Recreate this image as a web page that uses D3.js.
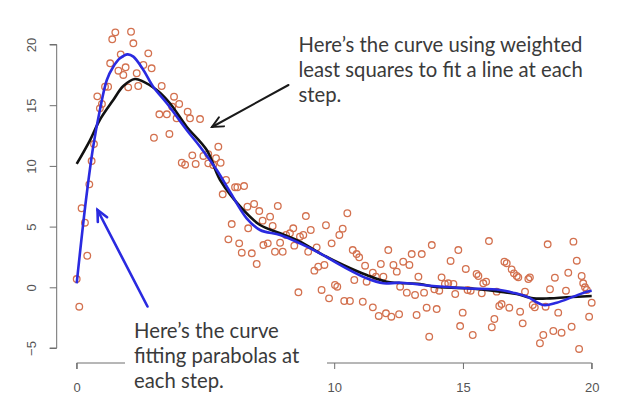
<!DOCTYPE html>
<html><head><meta charset="utf-8">
<script src="https://cdn.jsdelivr.net/npm/d3@7"></script>
<style>body{margin:0;background:#fff}svg{display:block}</style>
</head><body>
<script>
// scatter points (x, y)
const pointX = [1.50,1.38,2.11,2.20,1.71,1.30,1.62,1.90,1.81,2.00,2.39,2.33,2.59,2.91,2.78,0.80,1.10,1.22,0.90,0.98,
3.30,3.78,3.98,3.71,3.21,3.50,3.88,4.31,4.40,4.79,3.00,3.60,0.67,0.58,0.49,4.49,4.08,4.21,4.62,5.11,
4.92,5.41,5.30,5.50,0.19,0.32,0.41,0.00,0.10,5.11,5.59,5.80,6.15,6.24,6.50,5.67,6.89,6.63,7.09,7.81,
7.51,7.22,6.02,6.66,7.61,8.90,8.41,8.28,8.13,8.67,8.80,9.09,9.68,10.51,10.33,10.20,5.89,6.31,7.25,7.42,
7.90,8.45,9.32,9.90,6.41,6.80,7.70,8.00,8.99,6.99,10.72,10.87,10.97,11.20,11.81,12.10,12.30,12.68,12.92,13.01,
9.38,9.23,9.62,11.50,10.78,11.26,11.91,11.62,12.43,10.03,10.12,8.61,9.51,12.56,12.82,13.14,13.27,9.80,10.39,10.61,
11.11,11.50,11.73,12.01,12.22,12.52,13.20,13.40,13.79,13.49,13.59,13.98,13.69,13.89,14.08,14.17,14.30,14.43,14.63,14.52,
14.82,14.70,15.11,14.99,14.89,15.38,15.18,15.30,15.53,15.60,15.79,15.90,15.73,16.01,16.22,16.12,16.31,16.41,16.50,16.61,
16.70,16.89,16.98,17.09,17.15,16.80,17.22,17.32,17.41,17.54,17.60,17.71,17.79,17.99,18.12,18.29,18.38,18.21,18.57,18.70,
18.51,18.83,19.00,19.09,19.22,19.29,19.42,19.61,19.67,19.74,19.81,19.51,19.90,20.00];
const pointY = [21.0,20.43,21.05,20.1,19.19,18.45,17.84,18.12,17.49,16.47,16.58,17.63,18.31,18.04,19.27,15.73,16.52,16.52,14.74,15.10,
16.58,15.70,15.10,14.88,14.25,14.25,13.92,14.46,13.92,13.86,12.32,12.63,11.80,10.40,8.48,10.87,10.26,10.10,10.16,10.96,
10.82,10.63,10.07,11.58,6.51,5.32,2.60,0.68,-1.60,10.21,10.26,8.84,8.24,8.24,8.34,7.66,6.86,6.64,6.28,6.70,
5.82,5.49,5.21,4.86,5.05,5.87,4.86,4.45,4.31,4.17,4.31,4.72,5.11,6.10,4.83,4.31,3.95,3.62,3.48,3.62,
3.67,3.43,3.29,3.62,2.85,2.80,2.93,2.93,2.93,1.92,3.07,2.74,2.47,1.78,1.92,3.07,1.84,2.11,1.84,2.74,
1.70,1.37,1.84,1.20,0.60,0.46,0.87,0.87,1.29,0.19,0.05,-0.41,-0.22,0.05,-0.44,-0.63,0.87,-0.91,-1.13,-1.13,
-1.19,-1.65,-2.36,-2.14,-2.42,-2.22,-2.28,2.74,3.48,-0.44,-1.68,-1.79,-4.07,-0.16,-0.28,0.82,0.27,0.33,0.27,2.17,
3.07,-0.55,1.51,-2.09,-3.19,-3.93,-0.22,-0.28,1.10,0.93,0.33,0.46,-0.49,3.81,-2.61,-3.29,-0.36,-1.54,-1.38,2.11,
1.98,1.48,1.15,0.93,0.82,-1.68,-2.01,-2.97,-0.36,0.68,0.82,-1.46,-1.65,-4.61,-3.93,3.54,-0.16,-1.60,0.79,-2.09,
-3.60,-3.74,-0.28,1.20,-3.25,3.76,2.19,0.93,0.33,0.00,-0.22,-5.08,-2.42,-1.27];

// local quadratic fit (blue)
const blueX = [0,0.36,0.64,0.90,1.17,1.42,1.68,1.98,2.20,2.59,2.97,3.50,4.27,4.79,5.44,5.95,6.60,7.12,7.90,8.67,9.45,10.35,11.26,11.91,12.56,13.84,15.15,16.44,16.94,17.48,18.12,18.64,19.29,19.81,20.0];
const blueY = [0.33,7.19,11.58,14.60,17.08,18.17,18.86,19.19,19.00,17.90,16.52,15.16,12.96,11.58,9.66,7.87,5.68,4.72,4.31,3.62,2.80,1.70,0.74,0.33,0.38,0.11,-0.08,-0.22,-0.44,-0.77,-1.46,-1.27,-0.77,-0.36,-0.28];
// local linear fit (black)
const blackX = [0,0.52,0.90,1.42,1.81,2.26,2.59,3.11,3.62,4.27,5.05,5.57,6.47,7.12,7.90,8.67,9.45,10.35,11.26,12.04,13.33,13.85,15.15,16.44,17.09,17.73,18.38,19.03,20.0];
const blackY = [10.16,12.13,13.80,15.43,16.58,17.16,16.94,16.25,15.16,13.23,11.31,8.84,6.37,5.13,4.45,3.76,2.80,1.84,1.01,0.46,0.27,0.05,-0.08,-0.36,-0.55,-0.91,-0.91,-0.82,-0.72];

const xTicks = [0,5,10,15,20];
const xTickLabels = ["0","","10","15","20"]; // "5" is hidden under the note in the original
const yTicks = [-5,0,5,10,15,20];
const topNote = ["Here\u2019s the curve using weighted","least squares to fit a line at each","step."];
const bottomNote = ["Here\u2019s the curve","fitting parabolas at","each step."];

const W = 639, H = 403;
const svg = d3.select("body").append("svg").attr("width", W).attr("height", H);
const x = d3.scaleLinear().domain([0,20]).range([76.7,591.7]);
const y = d3.scaleLinear().domain([-5,20]).range([348,44.5]);

// axes
const xa = svg.append("g").attr("transform","translate(0,363)")
  .call(d3.axisBottom(x).tickValues(xTicks).tickSize(6).tickPadding(14).tickFormat((d,i)=>xTickLabels[i]));
const ya = svg.append("g").attr("transform","translate(56.7,0)")
  .call(d3.axisLeft(y).tickValues(yTicks).tickSize(7).tickFormat(d3.format("d")));
[xa,ya].forEach(a=>{
  a.select(".domain").attr("stroke","#6e6e6e").attr("stroke-width",1);
  a.selectAll(".tick line").attr("stroke","#6e6e6e").attr("stroke-width",1);
  a.selectAll(".tick text").attr("fill","#555").style("font-family","'Liberation Sans',Arial,sans-serif").style("font-size","13px");
});
xa.selectAll(".tick text").filter(function(){return this.textContent==="";}).remove();
xa.select(".domain").attr("d", `M${x(0)},6V0H${x(20)}V6`);
ya.select(".domain").attr("d", `M-7,${y(-5)}H0V${y(20)}H-7`);
ya.selectAll(".tick text").attr("x",0).attr("dy",0).attr("text-anchor","middle")
  .attr("transform","translate(-20.3,0) rotate(-90)");

// points
svg.append("g").selectAll("circle").data(pointX.map((v,i)=>[v,pointY[i]])).join("circle")
  .attr("cx",d=>x(d[0])).attr("cy",d=>y(d[1])).attr("r",3.3)
  .attr("fill","none").attr("stroke","#d3714f").attr("stroke-width",1.3);

// curves
const line = d3.line().x(d=>x(d[0])).y(d=>y(d[1])).curve(d3.curveCatmullRom.alpha(0.5));
svg.append("path").attr("d", line(blackX.map((v,i)=>[v,blackY[i]])))
  .attr("fill","none").attr("stroke","#111").attr("stroke-width",2.6).attr("stroke-linejoin","round");
svg.append("path").attr("d", line(blueX.map((v,i)=>[v,blueY[i]])))
  .attr("fill","none").attr("stroke","#2a2ae0").attr("stroke-width",2.6).attr("stroke-linejoin","round");

// annotation arrows
function arrow(x1,y1,x2,y2,color,w){
  svg.append("line").attr("x1",x1).attr("y1",y1).attr("x2",x2).attr("y2",y2)
    .attr("stroke",color).attr("stroke-width",w).attr("stroke-linecap","round");
  const a = Math.atan2(y2-y1,x2-x1), L = 12, s = 0.45;
  const p = [[x2-L*Math.cos(a-s), y2-L*Math.sin(a-s)],[x2,y2],[x2-L*Math.cos(a+s), y2-L*Math.sin(a+s)]];
  svg.append("path").attr("d", d3.line()(p)).attr("fill","none").attr("stroke",color)
    .attr("stroke-width",w).attr("stroke-linecap","round").attr("stroke-linejoin","miter");
}
arrow(288.5,85,212,127,"#1a1a1a",2);
arrow(147.5,306.5,97.5,210,"#2a2ae0",2.6);

// white box behind lower note
svg.append("rect").attr("x",125).attr("y",318).attr("width",202).attr("height",85).attr("fill","#fff");

const noteFont = "Lato,'Open Sans',sans-serif";
svg.append("g").selectAll("text").data(topNote).join("text")
  .attr("x",298.5).attr("y",(d,i)=>52+i*25).text(d=>d)
  .attr("fill","#3a3a3a").style("font-family",noteFont).style("font-size","20.3px");
svg.append("g").selectAll("text").data(bottomNote).join("text")
  .attr("x",134).attr("y",(d,i)=>338+i*25).text(d=>d)
  .attr("fill","#3a3a3a").style("font-family",noteFont).style("font-size","20.3px");
</script>
</body></html>
